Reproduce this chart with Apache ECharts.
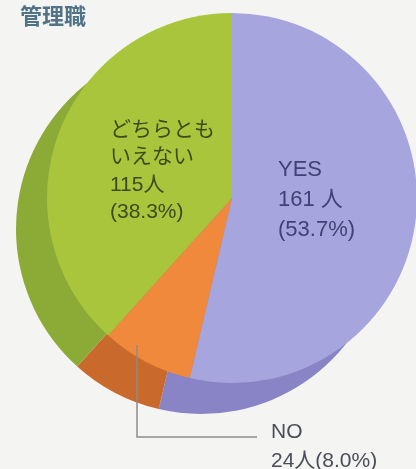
<!DOCTYPE html>
<html>
<head>
<meta charset="utf-8">
<script src="https://cdn.jsdelivr.net/npm/echarts@6/dist/echarts.min.js"></script>
<style>
html,body{margin:0;padding:0;background:#f4f4f2;}
#chart{width:416px;height:469px;}
</style>
</head>
<body>
<div id="chart"></div>
<script>
const title = '管理職';
const categories = ['YES', 'NO', 'どちらともいえない'];
const labelNames = ['YES', 'NO', 'どちらとも\nいえない'];
const counts = [161, 24, 115];
const percents = [53.7, 8.0, 38.3];
const unit = '人';

const topColors = ['#a7a5de', '#f0893b', '#a8c53b'];
const sideColors = ['#8884c6', '#c96a2c', '#8cab36'];
const labelColors = ['#3f4275', '#4a4e58', '#3d4a22'];

const font = '"Liberation Sans", "Noto Sans CJK JP", sans-serif';
const titleFont = '"Noto Sans CJK JP", sans-serif';

function pieData(colors) {
  return categories.map((c, i) => ({
    name: c,
    value: counts[i],
    itemStyle: { color: colors[i] }
  }));
}

const chart = echarts.init(document.getElementById('chart'), null, { renderer: 'canvas' });

const yesText = labelNames[0] + '\n' + counts[0] + ' ' + unit + '\n(' + percents[0].toFixed(1) + '%)';
const otherText = labelNames[2] + '\n' + counts[2] + unit + '\n(' + percents[2].toFixed(1) + '%)';
const noText = labelNames[1] + '\n' + counts[1] + unit + '(' + percents[1].toFixed(1) + '%)';

chart.setOption({
  backgroundColor: '#f4f4f2',
  animation: false,
  title: {
    text: title,
    left: 20,
    top: 5,
    padding: 0,
    textStyle: { fontSize: 22, fontWeight: 'bold', color: '#507388', fontFamily: titleFont }
  },
  series: [
    {
      type: 'pie',
      center: [201, 229],
      radius: 185,
      startAngle: 90,
      clockwise: true,
      silent: true,
      z: 1,
      label: { show: false },
      labelLine: { show: false },
      itemStyle: { borderWidth: 0 },
      emphasis: { disabled: true },
      data: pieData(sideColors)
    },
    {
      type: 'pie',
      center: [232, 198],
      radius: 185,
      startAngle: 90,
      clockwise: true,
      silent: true,
      z: 2,
      label: { show: false },
      labelLine: { show: false },
      itemStyle: { borderWidth: 0 },
      emphasis: { disabled: true },
      data: pieData(topColors)
    }
  ],
  graphic: [
    {
      type: 'polyline',
      z: 10,
      shape: { points: [[137, 345], [137, 437], [257, 437]] },
      style: { stroke: '#8c8c8c', lineWidth: 1.5, fill: null }
    },
    {
      type: 'text', z: 10, x: 110, y: 116,
      style: { text: otherText, font: '21px ' + font, lineHeight: 27.5, fill: labelColors[2], verticalAlign: 'top', align: 'left' }
    },
    {
      type: 'text', z: 10, x: 278, y: 155,
      style: { text: yesText, font: '22px ' + font, lineHeight: 30, fill: labelColors[0], verticalAlign: 'top', align: 'left' }
    },
    {
      type: 'text', z: 10, x: 271, y: 418,
      style: { text: noText, font: '21px ' + font, lineHeight: 29, fill: labelColors[1], verticalAlign: 'top', align: 'left' }
    }
  ]
});
</script>
</body>
</html>
